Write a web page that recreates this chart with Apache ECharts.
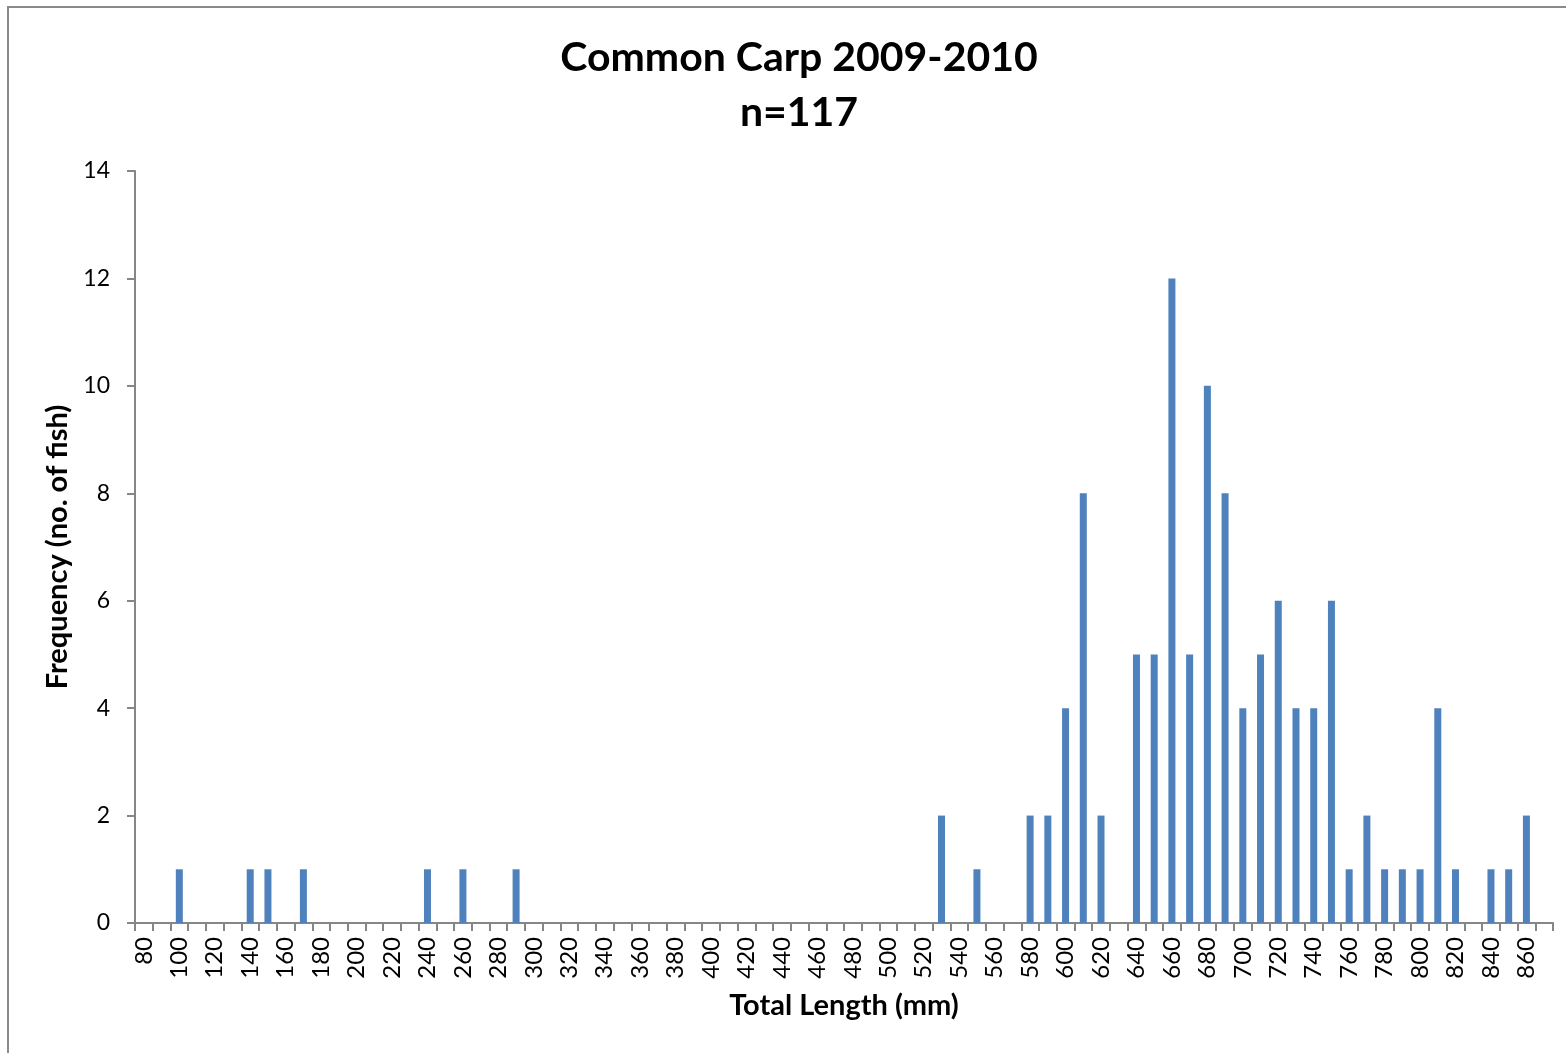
<!DOCTYPE html>
<html>
<head>
<meta charset="utf-8">
<style>
html,body{margin:0;padding:0;background:#fff;}
#chart{width:1566px;height:1053px;}
</style>
<script src="https://cdn.jsdelivr.net/npm/echarts@6/dist/echarts.min.js"></script>
</head>
<body>
<div id="chart"></div>
<script>
// Total length classes (mm), 10 mm bins from 80 to 870
var lengthClasses = ["80","90","100","110","120","130","140","150","160","170","180","190","200","210","220","230","240","250","260","270","280","290","300","310","320","330","340","350","360","370","380","390","400","410","420","430","440","450","460","470","480","490","500","510","520","530","540","550","560","570","580","590","600","610","620","630","640","650","660","670","680","690","700","710","720","730","740","750","760","770","780","790","800","810","820","830","840","850","860","870"];
// Frequency (no. of fish) per class
var frequency = [0,0,1,0,0,0,1,1,0,1,0,0,0,0,0,0,1,0,1,0,0,1,0,0,0,0,0,0,0,0,0,0,0,0,0,0,0,0,0,0,0,0,0,0,0,2,0,1,0,0,2,2,4,8,2,0,5,5,12,5,10,8,4,5,6,4,4,6,1,2,1,1,1,4,1,0,1,1,2,0];
var yTicks = [0,2,4,6,8,10,12,14];

var FONT = 'Lato';
var chart = echarts.init(document.getElementById('chart'), null, {renderer:'canvas'});
chart.setOption({
  animation:false,
  backgroundColor:'#fff',
  title:{
    text:'Common Carp 2009-2010\nn=117',
    left:794, top:25, textAlign:'center',
    textStyle:{fontFamily:FONT, fontWeight:'bold', fontSize:41, lineHeight:55, color:'#000'}
  },
  graphic:[{
    type:'rect', silent:true,
    shape:{x:8, y:7, width:1600, height:1100},
    style:{fill:'none', stroke:'#8a8a8a', lineWidth:2}
  }],
  grid:{left:135, top:171, right:13, bottom:130, containLabel:false},
  xAxis:{
    type:'category',
    data:lengthClasses,
    boundaryGap:true,
    name:'Total Length (mm)',
    nameLocation:'middle',
    nameGap:68,
    nameTextStyle:{fontFamily:FONT, fontWeight:'bold', fontSize:29, color:'#000', verticalAlign:'top'},
    axisLine:{lineStyle:{color:'#868686', width:2}},
    axisTick:{show:true, interval:0, length:8, lineStyle:{color:'#868686', width:2}},
    axisLabel:{interval:1, rotate:90, margin:14, fontFamily:FONT, fontSize:24, color:'#000'},
    splitLine:{show:false}
  },
  yAxis:{
    type:'value',
    min:yTicks[0], max:yTicks[yTicks.length-1], interval:2,
    name:'Frequency (no. of fish)',
    nameLocation:'middle',
    nameGap:60,
    nameRotate:90,
    nameTextStyle:{fontFamily:FONT, fontWeight:'bold', fontSize:29, color:'#000'},
    axisLine:{show:true, lineStyle:{color:'#868686', width:2}},
    axisTick:{show:true, length:8, lineStyle:{color:'#868686', width:2}},
    axisLabel:{margin:25, fontFamily:FONT, fontSize:23, color:'#000'},
    splitLine:{show:false}
  },
  series:[{
    type:'bar',
    data:frequency,
    barWidth:7,
    itemStyle:{color:'#4F81BD'}
  }]
});
</script>
</body>
</html>
